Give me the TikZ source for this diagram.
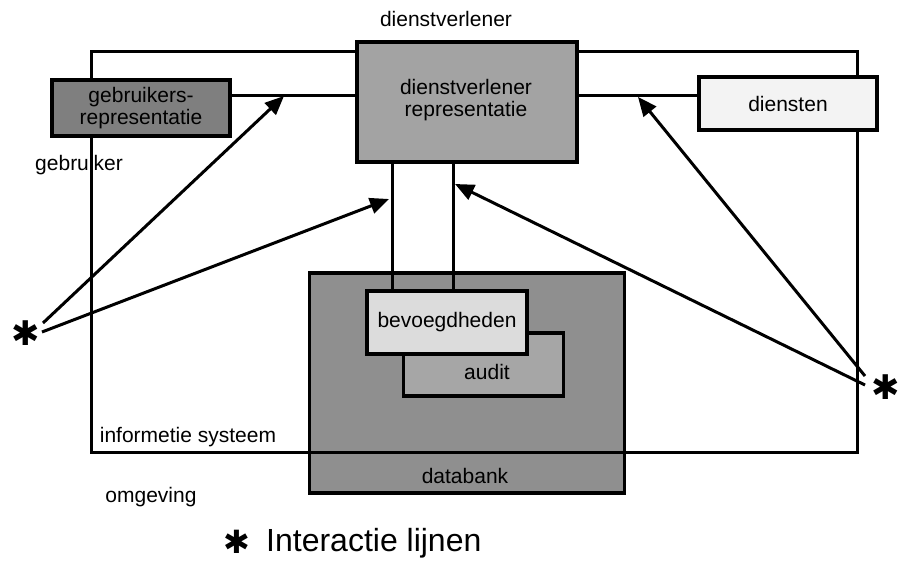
\documentclass[tikz,border=0pt]{standalone}
\usepackage{fontspec}
\setmainfont{Liberation Sans}
\newfontfamily\symfont{DejaVu Sans}
\usetikzlibrary{arrows.meta}

\definecolor{dvrgray}{HTML}{A3A3A3}
\definecolor{usergray}{HTML}{7F7F7F}
\definecolor{svclight}{HTML}{F3F3F3}
\definecolor{dbgray}{HTML}{8F8F8F}
\definecolor{authlight}{HTML}{DCDCDC}
\definecolor{auditgray}{HTML}{A6A6A6}

\tikzset{
  box/.style={draw=black, line width=3.2pt, rectangle, inner sep=0pt,
              font=\fontsize{21}{22}\selectfont, align=center},
  lbl/.style={font=\fontsize{21}{22}\selectfont, inner sep=0pt},
  link/.style={line width=3pt},
  frame/.style={line width=3pt},
  interact/.style={line width=3pt, -{Triangle[length=19pt,width=16pt]}},
  starmark/.style={font=\symfont\bfseries\fontsize{34}{36}\selectfont, inner sep=0pt}
}

\begin{document}
\begin{tikzpicture}[x=1pt, y=-1pt]
\useasboundingbox (0,0) rectangle (900,562);
\fill[white] (0,0) rectangle (900,562);

% databank with its inner stores
\node[box, fill=dbgray, minimum width=315pt, minimum height=220pt] (db) at (467,383) {};
\node[lbl] (dbl) at (465,476) {databank};
\node[box, fill=auditgray, minimum width=160pt, minimum height=63pt] (audit) at (483.5,364.5) {};
\node[lbl] (auditl) at (487,372) {audit};
\node[box, fill=authlight, minimum width=160pt, minimum height=63pt] (auth) at (447,322.5) {bevoegdheden};

% information system boundary
\coordinate (fTL) at (91,51);
\coordinate (fTR) at (857,51);
\coordinate (fBR) at (857,452);
\coordinate (fBL) at (91,452);
\draw[frame] (fBL) -- (fTL) -- (fTR) -- (fBR) -- cycle;

% service provider representation and its links
\node[box, fill=dvrgray, minimum width=220pt, minimum height=120pt] (dvr) at (467,102) {};
\node[lbl, align=center] (dvrl) at (466,100) {dienstverlener\\representatie};
\node[box, fill=usergray, minimum width=178pt, minimum height=56pt] (user) at (141,108) {gebruikers-\\representatie};
\node[box, fill=svclight, minimum width=178pt, minimum height=53pt] (svc) at (788,103.5) {diensten};

\coordinate (uL) at (user.east |- 0,95);
\coordinate (dL) at (dvr.west |- 0,95);
\coordinate (dR) at (dvr.east |- 0,95);
\coordinate (sL) at (svc.west |- 0,95);
\draw[link] (uL) -- (dL);
\draw[link] (dR) -- (sL);
\draw[link] (dvr.south -| 392,0) -- (auth.north -| 392,0);
\draw[link] (dvr.south -| 453,0) -- (auth.north -| 453,0);

% free labels
\node[lbl] (provider) at (446,19) {dienstverlener};
\node[lbl] (userlbl) at (79,165) {gebruiker};
\node[lbl] (islbl) at (188,437) {informetie systeem};
\node[lbl] (envlbl) at (151,497) {omgeving};

% interaction lines
\node[starmark] (starL) at (26,333) {✱};
\node[starmark] (starR) at (886,387) {✱};
\coordinate (sL1) at (43,323);
\coordinate (sL2) at (42,332);
\coordinate (sR1) at (865,376);
\coordinate (sR2) at (865,385);
\coordinate (tUser) at (284,96);
\coordinate (tDvrL) at (389,199);
\coordinate (tSvc) at (638,97);
\coordinate (tDvrR) at (455,184);
\draw[interact] (sL1) -- (tUser);
\draw[interact] (sL2) -- (tDvrL);
\draw[interact] (sR1) -- (tSvc);
\draw[interact] (sR2) -- (tDvrR);

% legend
\node[starmark, font=\symfont\bfseries\fontsize{32}{34}\selectfont] (legstar) at (237,542) {✱};
\node[anchor=west, inner sep=0pt, font=\fontsize{32}{34}\selectfont] (legtext) at (266,543) {Interactie lijnen};
\end{tikzpicture}
\end{document}
